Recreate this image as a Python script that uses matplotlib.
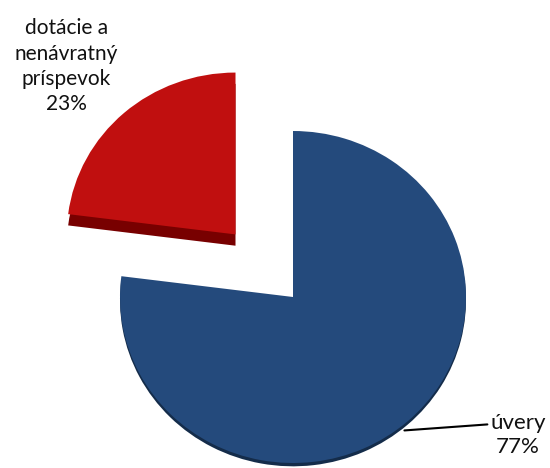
import numpy as np
import matplotlib
matplotlib.use("Agg")
import matplotlib.pyplot as plt

# Data
categories = ["úvery", "dotácie a\nnenávratný\npríspevok"]
values = [77, 23]
top_colors = ["#244A7C", "#C00F0F"]
side_colors = ["#142C4A", "#780000"]
explode_dist = [0.0, 0.49]

plt.rcParams['font.family'] = ['Lato', 'DejaVu Sans']

fig = plt.figure(figsize=(5.5, 4.68), dpi=100)
ax = fig.add_axes([0, 0, 1, 1])

radii = [1.0, 0.975]
depths = [0.02, 0.068]


def draw_layer(i, color, dy):
    cols = [color if j == i else 'none' for j in range(len(values))]
    r = radii[i]
    expl = [e / r for e in explode_dist]
    ax.pie(values, explode=expl, startangle=90, counterclock=False,
           colors=cols, center=(0, -dy), radius=r,
           wedgeprops=dict(linewidth=0))


# side (3D depth) layers
for i in range(len(values)):
    draw_layer(i, side_colors[i], depths[i])
# top faces
for i in range(len(values)):
    draw_layer(i, top_colors[i], 0.0)

ax.set_aspect('auto')
ax.set_xlim(-293 / 173, (550 - 293) / 173)
ax.set_ylim((297 - 468) / 166, 297 / 166)
ax.axis('off')

total = sum(values)
# label for red slice
ax.text(-1.31, 1.39, f"{categories[1]}\n{values[1] * 100 // total}%",
        ha='center', va='center', fontsize=15, color='#111111', linespacing=1.33)

# label for blue slice with leader line
ang = np.deg2rad(-51.3)
ax.annotate(f"{categories[0]}\n{values[0] * 100 // total}%",
            xy=(1.03 * np.cos(ang), 1.03 * np.sin(ang)),
            xytext=(1.30, -0.83), ha='center', va='center',
            fontsize=16, color='#111111', linespacing=1.25,
            arrowprops=dict(arrowstyle='-', color='black', lw=1.5,
                            shrinkA=0, shrinkB=0, relpos=(0.0, 0.74)))

fig.savefig("out.png", dpi=100, facecolor='white')
